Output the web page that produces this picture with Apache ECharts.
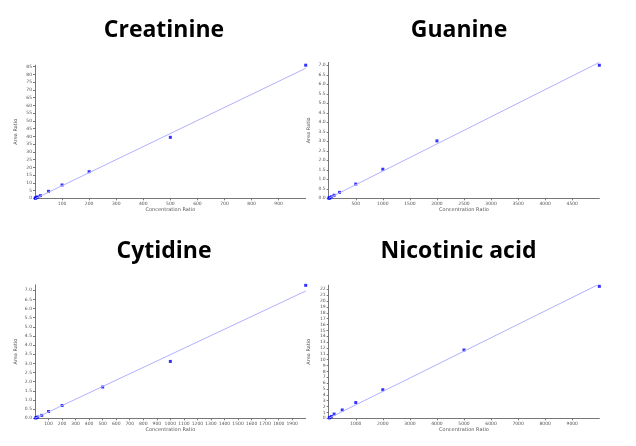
<!DOCTYPE html>
<html>
<head>
<meta charset="utf-8">
<script src="https://cdn.jsdelivr.net/npm/echarts@6/dist/echarts.min.js"></script>
<style>
  html, body { margin: 0; padding: 0; background: #fff; }
  #chart { width: 636px; height: 446px; }
</style>
</head>
<body>
<div id="chart"></div>
<script>
// 校准数据 (concentration ratio -> area ratio)
const panelTitles = ['Creatinine', 'Guanine', 'Cytidine', 'Nicotinic acid']

const creatX = [1000, 500, 200, 100, 50, 20, 10, 5, 2, 1]
const creatY = [86.0, 39.4, 17.2, 8.6, 4.5, 1.7, 0.9, 0.45, 0.18, 0.09]
const guanX = [5000, 2000, 1000, 500, 200, 100, 50, 20, 10, 5]
const guanY = [7.0, 3.02, 1.53, 0.75, 0.31, 0.16, 0.08, 0.03, 0.015, 0.007]
const cytX = [2000, 1000, 500, 200, 100, 50, 20, 10, 5]
const cytY = [7.27, 3.11, 1.71, 0.7, 0.37, 0.16, 0.07, 0.035, 0.017]
const nicX = [10000, 5000, 2000, 1000, 500, 200, 100, 50, 20]
const nicY = [22.5, 11.65, 4.88, 2.68, 1.42, 0.72, 0.32, 0.15, 0.06]

// 拟合直线 (两端点)
const creatFit = [[0, -0.3], [1000, 84.0]]
const guanFit = [[0, 0], [5000, 7.15]]
const cytFit = [[0, 0], [2000, 6.96]]
const nicFit = [[0, 0], [10000, 22.9]]

// 坐标轴范围
const xMax = [1000, 5000, 2000, 10000]
const xStep = [100, 500, 100, 1000]
const yMax = [86, 7.15, 7.3, 22.7]
const yStep = [5, 0.5, 0.5, 1]
const yDigits = [0, 1, 1, 0]

const grids = [
  { left: 35, top: 65.2, width: 270.7, height: 133.1 },
  { left: 328.7, top: 62.4, width: 270.6, height: 135.9 },
  { left: 35, top: 284.8, width: 270.7, height: 133.5 },
  { left: 328.7, top: 285.2, width: 270.6, height: 133.1 }
]

const titlePos = [
  { x: 159, y: 25.5 },
  { x: 454, y: 25.5 },
  { x: 159, y: 246 },
  { x: 453.5, y: 246 }
]

const pointsX = [creatX, guanX, cytX, nicX]
const pointsY = [creatY, guanY, cytY, nicY]
const fits = [creatFit, guanFit, cytFit, nicFit]

const axisColor = '#777'
const labelColor = '#555'

const chart = echarts.init(document.getElementById('chart'), null, { renderer: 'canvas' })

const option = {
  animation: false,
  title: panelTitles.map((t, i) => ({
    text: t,
    left: titlePos[i].x,
    top: titlePos[i].y,
    textAlign: 'center',
    textVerticalAlign: 'middle',
    textStyle: {
      fontFamily: 'Open Sans',
      fontWeight: 'bold',
      fontSize: 23,
      color: '#000'
    }
  })),
  grid: grids,
  xAxis: grids.map((g, i) => ({
    type: 'value',
    gridIndex: i,
    min: 0,
    max: xMax[i],
    interval: xStep[i],
    name: 'Concentration Ratio',
    nameLocation: 'middle',
    nameGap: 5,
    nameTextStyle: { fontSize: 5, color: labelColor, fontFamily: 'DejaVu Sans' },
    axisLine: { show: true, lineStyle: { color: axisColor, width: 1 } },
    axisTick: { show: true, length: 2, lineStyle: { color: axisColor } },
    axisLabel: {
      showMinLabel: false,
      showMaxLabel: false,
      fontSize: 4.5,
      margin: 3,
      color: labelColor,
      fontFamily: 'DejaVu Sans',
      formatter: (v) => String(v)
    },
    splitLine: { show: false }
  })),
  yAxis: grids.map((g, i) => ({
    type: 'value',
    gridIndex: i,
    min: 0,
    max: yMax[i],
    interval: yStep[i],
    name: 'Area Ratio',
    nameLocation: 'middle',
    nameGap: 17,
    nameTextStyle: { fontSize: 5, color: labelColor, fontFamily: 'DejaVu Sans' },
    axisLine: { show: true, lineStyle: { color: axisColor, width: 1 } },
    axisTick: { show: true, length: 2, lineStyle: { color: axisColor } },
    axisLabel: {
      showMaxLabel: false,
      fontSize: 4.5,
      margin: 3,
      color: labelColor,
      fontFamily: 'DejaVu Sans',
      formatter: (v) => v.toFixed(yDigits[i])
    },
    splitLine: { show: false }
  })),
  series: [
    ...fits.map((f, i) => ({
      type: 'line',
      xAxisIndex: i,
      yAxisIndex: i,
      data: f,
      showSymbol: false,
      clip: true,
      lineStyle: { color: '#b0b0ff', width: 1 }
    })),
    ...pointsX.map((xs, i) => ({
      type: 'scatter',
      xAxisIndex: i,
      yAxisIndex: i,
      data: xs.map((x, k) => [x, pointsY[i][k]]),
      symbol: 'rect',
      symbolSize: 3,
      itemStyle: { color: '#0000ff' }
    }))
  ]
}

chart.setOption(option)
</script>
</body>
</html>
